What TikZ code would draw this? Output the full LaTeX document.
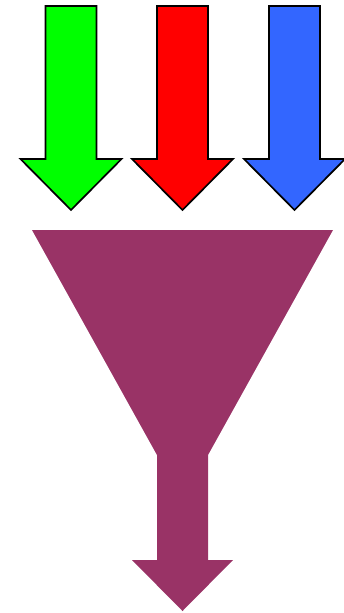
\documentclass[tikz,border=0pt]{standalone}
\usepackage{tikz}
\definecolor{inblue}{RGB}{51,102,255}
\definecolor{funnelred}{RGB}{153,51,102}

\begin{document}
\begin{tikzpicture}[
  x=1pt, y=-1pt,
  inarrow/.style={draw=black, line width=1.7pt, line join=miter},
  funnel/.style={fill=funnelred, draw=none}]
\useasboundingbox (0,0) rectangle (343,613);
% three input arrows
\foreach \cx/\col in {71/green, 182.5/red, 294.5/inblue} {
  \filldraw[inarrow, fill=\col]
    (\cx-25.5,6) -- (\cx+25.5,6) -- (\cx+25.5,159) -- (\cx+50.5,159)
    -- (\cx,210) -- (\cx-50.5,159) -- (\cx-25.5,159) -- cycle;
}
% funnel with output arrow
\fill[funnel] (32,230) -- (333,230) -- (208,455) -- (208,560) -- (233,560)
  -- (182.5,611) -- (132,560) -- (157,560) -- (157,455) -- cycle;
\end{tikzpicture}
\end{document}
